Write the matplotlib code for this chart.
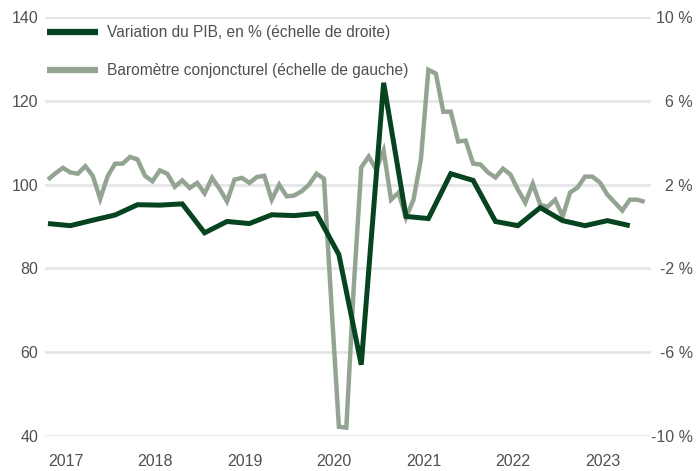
import numpy as np
import matplotlib
matplotlib.use('Agg')
import matplotlib.pyplot as plt

# --- Data ---
# KOF-style business barometer, monthly Jan 2017 - Sep 2023 (left scale)
barometer = [
    101.2, 102.7, 104.0, 102.9, 102.6, 104.4, 102.1, 96.6, 102.0, 105.0, 105.0, 106.6,   # 2017
    106.0, 102.1, 100.8, 103.4, 102.6, 99.5, 101.0, 99.2, 100.4, 97.9, 101.6, 99.0,      # 2018
    96.0, 101.2, 101.6, 100.4, 101.8, 102.1, 96.4, 100.0, 97.2, 97.4, 98.4, 100.0,       # 2019
    102.6, 101.4, 71.4, 42.2, 42.0, 75.7, 104.1, 106.7, 103.6, 108.1, 96.4, 98.1,        # 2020
    92.1, 96.4, 106.0, 127.4, 126.5, 117.4, 117.4, 110.3, 110.5, 105.0, 104.8, 102.9,    # 2021
    101.7, 103.8, 102.4, 98.8, 95.7, 100.2, 95.2, 94.7, 96.4, 92.4, 98.1, 99.3,          # 2022
    101.9, 101.9, 100.5, 97.6, 95.7, 93.8, 96.4, 96.4, 95.9,                             # 2023
]
# GDP change in %, quarterly (right scale)
gdp_change = [
    0.14, 0.04, 0.30, 0.55, 1.04, 1.02, 1.08, -0.30, 0.24, 0.14, 0.56, 0.52,
    0.62, -1.34, -6.60, 6.86, 0.48, 0.38, 2.52, 2.20, 0.24, 0.04, 0.90, 0.28,
    0.04, 0.28, 0.04,
]
years = [2017, 2018, 2019, 2020, 2021, 2022, 2023]
left_ticks = [40, 60, 80, 100, 120, 140]
right_ticks = [-10, -6, -2, 2, 6, 10]

label_gdp = 'Variation du PIB, en % (échelle de droite)'
label_baro = 'Baromètre conjoncturel (échelle de gauche)'

GREEN = '#06431f'
SAGE = '#94a492'
TEXT = '#505050'
GRID = '#e6e6e8'

plt.rcParams['font.family'] = ['Liberation Sans', 'DejaVu Sans']
plt.rcParams['font.size'] = 11

x_baro = years[0] + np.arange(len(barometer)) / 12
x_gdp = years[0] + np.arange(len(gdp_change)) / 4

W, H = 697, 471
fig = plt.figure(figsize=(W / 100, H / 100), dpi=100)
# axes box in pixels: left 45, right 651, top 17, bottom 436
ax = fig.add_axes([45 / W, 1 - 436 / H, (651 - 45) / W, (436 - 17) / H])
ax2 = ax.twinx()

ax.set_ylim(40, 140)
ax2.set_ylim(-10, 10)
px_per_year = 89.5
ax.set_xlim(years[0] - 3 / px_per_year, years[0] + 603 / px_per_year)

ax.set_yticks(left_ticks)
ax.set_yticklabels([str(v) for v in left_ticks])
ax2.set_yticks(right_ticks)
ax2.set_yticklabels([f'{v} %' for v in right_ticks])
ax.set_xticks(years)
ax.set_xticklabels([str(y) for y in years], ha='left')

ax.grid(axis='y', color=GRID, linewidth=2.0)
ax.set_axisbelow(True)
for a in (ax, ax2):
    for s in a.spines.values():
        s.set_visible(False)
ax.tick_params(axis='both', length=0, colors=TEXT, labelsize=11.5)
ax.tick_params(axis='y', pad=5)
ax.tick_params(axis='x', pad=13)
ax2.tick_params(axis='y', length=0, colors=TEXT, labelsize=11.5, pad=30)
for t in ax2.get_yticklabels():
    t.set_ha('right')

l_baro, = ax.plot(x_baro, barometer, color=SAGE, linewidth=3.2,
                  solid_joinstyle='miter', solid_capstyle='butt', label=label_baro)
l_gdp, = ax2.plot(x_gdp, gdp_change, color=GREEN, linewidth=3.6,
                  solid_joinstyle='miter', solid_capstyle='butt', label=label_gdp)

leg = fig.legend([l_gdp, l_baro], [label_gdp, label_baro],
                 loc='upper left', bbox_to_anchor=(47 / W, 1 - 25 / H),
                 frameon=False, fontsize=11.2, handlelength=3.3,
                 handletextpad=0.55, labelspacing=1.5, borderpad=0, borderaxespad=0)
for txt in leg.get_texts():
    txt.set_color(TEXT)
for h in leg.legend_handles:
    h.set_linewidth(4.5)

fig.savefig('out.png', dpi=100)
